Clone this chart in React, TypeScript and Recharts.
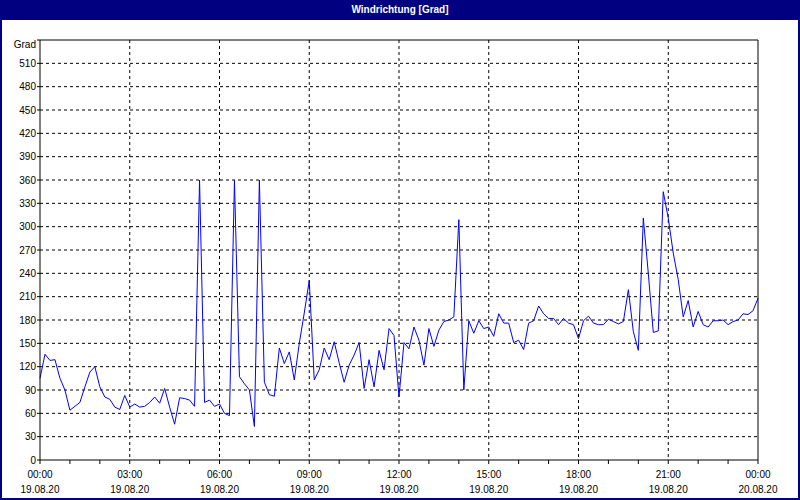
import React from 'react';
import {
  LineChart,
  Line,
  XAxis,
  YAxis,
  CartesianGrid,
  ReferenceLine,
} from 'recharts';

// wind direction in degrees, one reading every 10 minutes (19.08.20 00:00 .. 20.08.20 00:00)
const direction = [
  105, 136, 128, 129, 105, 90, 64, 69, 74, 94, 113, 120, 94, 81, 78, 68, 65, 83, 68, 72,
  68, 69, 74, 81, 73, 92, 68, 46, 80, 79, 77, 69, 360, 74, 77, 69, 72, 60, 57, 360,
  107, 98, 90, 43, 360, 100, 84, 82, 144, 124, 139, 103, 150, 189, 231, 103, 116, 144, 129, 152,
  125, 100, 122, 135, 151, 92, 129, 94, 141, 116, 169, 160, 81, 151, 143, 171, 154, 122, 169, 146,
  167, 178, 180, 184, 309, 90, 179, 163, 179, 169, 171, 159, 188, 176, 176, 151, 154, 142, 176, 179,
  198, 188, 182, 182, 174, 182, 176, 174, 156, 179, 185, 176, 174, 174, 181, 178, 175, 178, 219, 165,
  141, 311, 240, 164, 166, 345, 311, 266, 232, 184, 205, 171, 191, 174, 171, 179, 179, 180, 174, 178,
  180, 188, 187, 192, 208,
];

const timeLabels = ['00:00', '03:00', '06:00', '09:00', '12:00', '15:00', '18:00', '21:00', '00:00'];
const dateLabels = ['19.08.20', '19.08.20', '19.08.20', '19.08.20', '19.08.20', '19.08.20', '19.08.20', '19.08.20', '20.08.20'];
const gradTicks = [0, 30, 60, 90, 120, 150, 180, 210, 240, 270, 300, 330, 360, 390, 420, 450, 480, 510, 540];
const compassTicks = [0, 45, 90, 135, 180, 225, 270, 315, 360, 405, 450, 495, 540];
const compassLabels = ['N', 'NE', 'E', 'SE', 'S', 'SW', 'W', 'NW', 'N', 'NE', 'E', 'SE', 'S'];

const data = direction.map((v, i) => ({ t: i * 10, deg: v }));
const hourTicks = Array.from({ length: 25 }, (_, i) => i * 60);
const labelTicks = timeLabels.map((_, i) => i * 180);

const FONT = '"Liberation Sans", Arial, sans-serif';
const NAVY = '#000080';

function TimeTick(props: any) {
  const { x, y, payload } = props;
  const idx = labelTicks.indexOf(payload.value);
  if (idx < 0) return <g />;
  return (
    <g>
      <text x={x} y={y + 12} textAnchor="middle" fontSize={10} fontFamily={FONT} fill="#000">
        {timeLabels[idx]}
      </text>
      <text x={x} y={y + 27} textAnchor="middle" fontSize={10} fontFamily={FONT} fill="#000">
        {dateLabels[idx]}
      </text>
    </g>
  );
}

function GradTick(props: any) {
  const { x, y, payload } = props;
  const top = payload.value === 540;
  return (
    <text x={x} y={y + (top ? 4 : 0)} dy="0.355em" textAnchor="end" fontSize={10} fontFamily={FONT} fill="#000">
      {top ? 'Grad' : payload.value}
    </text>
  );
}

export default function App() {
  return (
    <div
      style={{
        position: 'fixed',
        left: 0,
        top: 0,
        width: 800,
        height: 500,
        background: '#fff',
        fontFamily: FONT,
        overflow: 'hidden',
      }}
    >
      <div style={{ position: 'absolute', left: 0, top: 0 }}>
        <LineChart width={800} height={500} data={data} margin={{ top: 40, right: 0, bottom: 0, left: 0 }}>
          <CartesianGrid
            yAxisId="left"
            stroke="#000"
            strokeDasharray="3 3"
            horizontalValues={gradTicks.slice(1, -1)}
            verticalValues={labelTicks.slice(1, -1)}
          />
          <XAxis
            dataKey="t"
            type="number"
            domain={[0, 1440]}
            ticks={hourTicks}
            interval={0}
            height={40}
            stroke="#000"
            tickSize={4}
            tick={<TimeTick />}
          />
          <YAxis
            yAxisId="left"
            domain={[0, 540]}
            ticks={gradTicks}
            interval={0}
            width={40}
            stroke="#000"
            tickSize={3}
            tickMargin={1}
            tick={<GradTick />}
          />
          <YAxis
            yAxisId="right"
            orientation="right"
            domain={[0, 540]}
            ticks={compassTicks}
            interval={0}
            width={42}
            stroke="#000"
            tickSize={4}
            tickMargin={3}
            tick={{ fill: '#000', fontSize: 10, fontFamily: FONT, textAnchor: 'start' }}
            tickFormatter={(v: number) => compassLabels[compassTicks.indexOf(v)]}
          />
          <ReferenceLine yAxisId="left" y={540} stroke="#000" />
          <Line
            yAxisId="left"
            type="linear"
            dataKey="deg"
            stroke="#0000ff"
            strokeWidth={1}
            dot={false}
            isAnimationActive={false}
          />
        </LineChart>
      </div>
      <div
        style={{
          position: 'absolute',
          left: 0,
          top: 0,
          width: 800,
          height: 500,
          boxSizing: 'border-box',
          border: `2px solid ${NAVY}`,
          pointerEvents: 'none',
          zIndex: 5,
        }}
      />
      <div
        style={{
          position: 'absolute',
          left: 0,
          top: 0,
          width: 800,
          height: 20,
          background: NAVY,
          color: '#fff',
          fontWeight: 'bold',
          fontSize: 10,
          lineHeight: '20px',
          textAlign: 'center',
          zIndex: 6,
        }}
      >
        Windrichtung [Grad]
      </div>
    </div>
  );
}
